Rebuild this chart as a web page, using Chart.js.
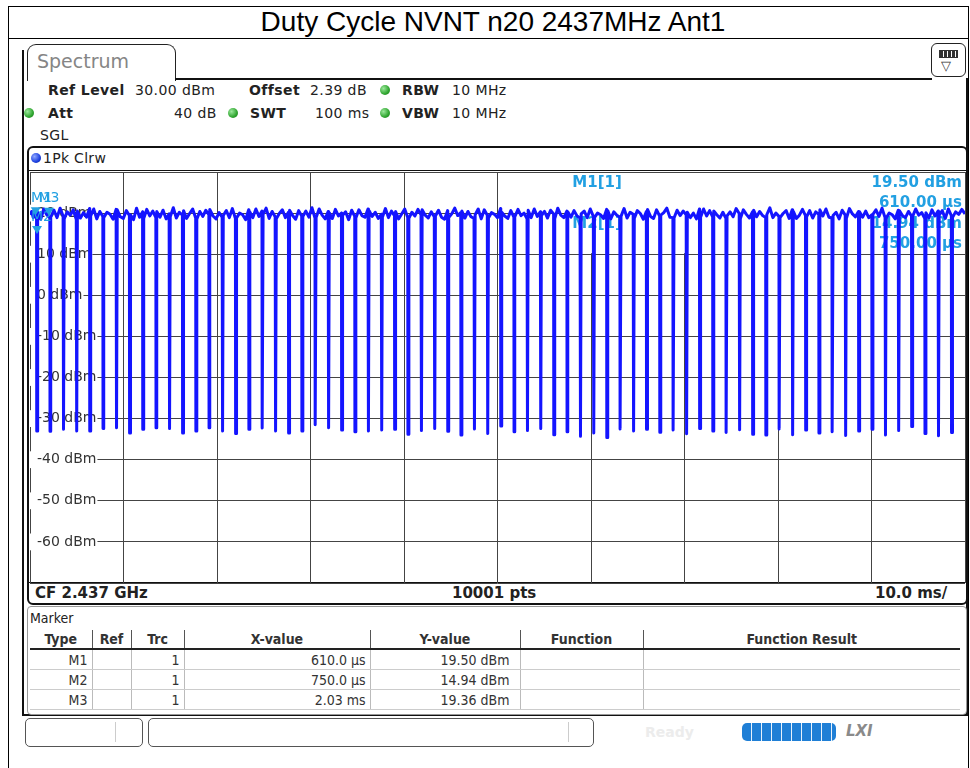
<!DOCTYPE html>
<html>
<head>
<meta charset="utf-8">
<title>Duty Cycle NVNT n20 2437MHz Ant1</title>
<script src="https://cdn.jsdelivr.net/npm/chart.js@4.4.0/dist/chart.umd.min.js"></script>
<style>
body { margin: 0; background: #fff; }
#page { position: relative; width: 970px; height: 768px; overflow: hidden; font-family: 'DejaVu Sans', sans-serif; color: #222; }
.a { position: absolute; white-space: nowrap; line-height: 1; }
.b { font-weight: bold; }
.s { font-size: 14px; letter-spacing: 0.4px; }
.dot { position: absolute; width: 10px; height: 10px; border-radius: 50%; background: radial-gradient(circle at 35% 35%, #9be89b, #2fa52f 60%, #1d7a1d); }
.ln { position: absolute; background: #111; }
#mk { position: absolute; left: 30px; top: 630px; width: 930px; border-collapse: collapse; font-family: 'DejaVu Sans Condensed', 'DejaVu Sans', sans-serif; font-size: 14px; color: #333; table-layout: fixed; }
#mk th { height: 18px; padding: 0; font-weight: bold; border-right: 1px solid #555; border-bottom: 2px solid #222; text-align: center; }
#mk td { height: 19px; padding: 0 4px 0 0; border-right: 1px solid #bbb; border-bottom: 1px solid #ccc; text-align: right; }
#mk td:nth-child(5) { padding-right: 10px; }
#mk th:last-child, #mk td:last-child { border-right: none; }
</style>
</head>
<body>
<div id="page">
  <!-- marco exterior y titulo -->
  <div class="a" style="left:8px;top:6px;width:959px;height:770px;border:1px solid #000;"></div>
  <div class="ln" style="left:8px;top:38px;width:961px;height:1px;background:#000;"></div>
  <div class="a" style="left:193px;top:8px;width:600px;text-align:center;font-family:'Liberation Sans',Arial,sans-serif;font-size:28px;color:#000;">Duty Cycle NVNT n20 2437MHz Ant1</div>

  <!-- ventana del analizador -->
  <div class="ln" style="left:22px;top:50px;width:2px;height:666px;"></div>
  <div class="ln" style="left:966px;top:78px;width:2px;height:638px;"></div>
  <div class="ln" style="left:22px;top:714px;width:946px;height:2px;"></div>
  <div class="a" style="left:27px;top:44px;width:147px;height:36px;border:1.5px solid #222;border-bottom:none;border-radius:9px 9px 0 0;background:#fff;"></div>
  <div class="a" style="left:37px;top:52px;font-size:19px;color:#858585;">Spectrum</div>
  <div class="ln" style="left:175px;top:78px;width:757px;height:1.5px;"></div>
  <div class="a" style="left:931px;top:43px;width:33px;height:32px;border:1.5px solid #222;border-radius:6px;background:#fff;"></div>
  <div class="a" style="left:939px;top:50px;width:17px;height:6px;background:repeating-linear-gradient(90deg,#333 0 3px,#fff 3px 4px);border:1px solid #333;"></div>
  <div class="a" style="left:941px;top:59px;font-size:13px;color:#333;">▽</div>

  <!-- parametros -->
  <div class="a s b" style="left:48px;top:83px;">Ref Level</div>
  <div class="a s" style="left:135px;top:83px;">30.00 dBm</div>
  <div class="a s b" style="left:249px;top:83px;">Offset</div>
  <div class="a s" style="left:310px;top:83px;">2.39 dB</div>
  <div class="dot" style="left:380px;top:85px;"></div>
  <div class="a s b" style="left:402px;top:83px;">RBW</div>
  <div class="a s" style="left:452px;top:83px;">10 MHz</div>
  <div class="dot" style="left:24px;top:108px;"></div>
  <div class="a s b" style="left:48px;top:106px;">Att</div>
  <div class="a s" style="left:174px;top:106px;">40 dB</div>
  <div class="dot" style="left:228px;top:108px;"></div>
  <div class="a s b" style="left:250px;top:106px;">SWT</div>
  <div class="a s" style="left:315px;top:106px;">100 ms</div>
  <div class="dot" style="left:380px;top:108px;"></div>
  <div class="a s b" style="left:402px;top:106px;">VBW</div>
  <div class="a s" style="left:452px;top:106px;">10 MHz</div>
  <div class="a s" style="left:40px;top:128px;">SGL</div>

  <!-- marco del diagrama -->
  <div class="a" style="left:27px;top:146px;width:937px;height:455px;border:2px solid #111;border-radius:6px;"></div>
  <div class="ln" style="left:29px;top:170px;width:937px;height:1px;"></div>
  <div class="a" style="left:31px;top:153px;width:10px;height:10px;border-radius:50%;background:radial-gradient(circle at 35% 35%,#8fa8ff,#1c3fe0 60%,#0b1f8c);"></div>
  <div class="a" style="left:43px;top:151px;font-size:14px;letter-spacing:0.3px;">1Pk Clrw</div>
  <div class="ln" style="left:29px;top:582px;width:937px;height:1px;"></div>
  <div class="a b" style="left:35px;top:586px;font-size:15px;">CF 2.437 GHz</div>
  <div class="a b" style="left:452px;top:586px;font-size:15px;">10001 pts</div>
  <div class="a b" style="left:875px;top:586px;font-size:15px;">10.0 ms/</div>

  <!-- tabla de marcadores -->
  <div class="a" style="left:27px;top:606px;width:938px;height:107px;border:1px solid #999;border-radius:4px;"></div>
  <div class="a" style="left:30px;top:611px;font-size:14px;font-family:'DejaVu Sans Condensed','DejaVu Sans';">Marker</div>
  <table id="mk">
    <colgroup><col style="width:62px"><col style="width:39px"><col style="width:53px"><col style="width:186px"><col style="width:150px"><col style="width:123px"><col></colgroup>
    <thead><tr><th>Type</th><th>Ref</th><th>Trc</th><th>X-value</th><th>Y-value</th><th>Function</th><th>Function Result</th></tr></thead>
    <tbody id="mk-body"></tbody>
  </table>

  <!-- barra de estado -->
  <div class="a" style="left:25px;top:718px;width:116px;height:27px;border:1px solid #555;border-radius:5px;"></div>
  <div class="ln" style="left:115px;top:722px;width:1px;height:20px;background:#ccc;"></div>
  <div class="a" style="left:148px;top:718px;width:444px;height:27px;border:1px solid #555;border-radius:5px;"></div>
  <div class="ln" style="left:568px;top:722px;width:1px;height:20px;background:#ccc;"></div>
  <div class="a b" style="left:645px;top:725px;font-size:14px;color:#ececec;">Ready</div>
  <div class="a" style="left:742px;top:723px;width:94px;height:18px;border-radius:5px;background:repeating-linear-gradient(90deg,#1f7fd6 0 9px,#e8f2fc 9px 10px);"></div>
  <div class="a b" style="left:846px;top:724px;font-size:15px;font-style:italic;color:#8a8a8a;">LXI</div>

  <canvas id="trace" width="970" height="768" style="position:absolute;left:0;top:0;"></canvas>
</div>

<script>
// Barrido de 100 ms, nivel de referencia 30 dBm, 10 dB/div
const sweepTimeMs = 100;
const yMax = 30;
const yMin = -70;

// Instantes (ms) de cada hueco de la ráfaga
const dipTimes = [
    0.72, 2.14, 3.56, 4.97, 6.39, 7.81, 9.23, 10.65, 12.06, 13.48,
    14.90, 16.32, 17.74, 19.15, 20.57, 21.99, 23.41, 24.83, 26.24, 27.66,
    29.08, 30.50, 31.91, 33.33, 34.75, 36.17, 37.59, 39.00, 40.42, 41.84,
    43.26, 44.68, 46.09, 47.51, 48.93, 50.35, 51.77, 53.18, 54.60, 56.02,
    57.44, 58.85, 60.27, 61.69, 63.11, 64.53, 65.94, 67.36, 68.78, 70.20,
    71.62, 73.03, 74.45, 75.87, 77.29, 78.70, 80.12, 81.54, 82.96, 84.38,
    85.79, 87.21, 88.63, 90.05, 91.47, 92.88, 94.30, 95.72, 97.14, 98.56
];

// Nivel mínimo (dBm) de cada hueco
const dipLevels = [
    -33.0, -33.1, -32.6, -33.0, -33.0, -32.4, -32.2, -33.5, -32.6, -32.2,
    -32.4, -33.5, -33.0, -32.2, -33.0, -33.6, -32.6, -32.3, -33.0, -33.5,
    -33.0, -31.5, -32.2, -32.8, -33.2, -33.0, -32.8, -32.6, -33.8, -32.9,
    -32.4, -33.1, -34.0, -32.5, -33.6, -31.8, -33.2, -32.9, -32.4, -33.9,
    -33.2, -34.3, -33.5, -34.6, -32.5, -33.0, -32.6, -33.3, -32.8, -33.7,
    -32.4, -33.0, -33.4, -32.7, -33.8, -34.0, -32.5, -33.9, -32.8, -33.5,
    -33.2, -34.1, -33.0, -32.6, -34.0, -32.9, -31.9, -33.6, -34.2, -33.4
];

// Lecturas del nivel de la señal (dBm) entre huecos, 5 por tramo
const topNoise = [
    [19.6, 20.4, 18.9, 19.5, 20.8], [20.2, 18.5, 21.0, 19.6, 18.8], [19.0, 20.7, 18.9, 21.2, 19.3],
    [18.6, 20.3, 19.5, 20.8, 18.4], [20.5, 18.8, 20.1, 19.0, 21.1], [19.3, 21.0, 18.6, 20.4, 19.2],
    [18.9, 20.2, 19.7, 18.5, 20.9], [20.8, 19.1, 18.7, 20.6, 19.4], [19.6, 18.4, 21.2, 19.0, 20.3],
    [18.7, 20.9, 19.3, 20.5, 18.9], [20.4, 19.0, 20.7, 18.6, 19.8], [19.1, 21.3, 18.8, 20.2, 19.5],
    [20.6, 18.7, 19.9, 21.0, 18.8], [18.5, 20.4, 19.2, 20.7, 19.6], [20.9, 19.3, 18.6, 20.1, 19.0],
    [19.4, 20.6, 18.9, 21.1, 18.7], [18.8, 20.0, 19.6, 18.4, 20.8], [20.3, 18.9, 21.0, 19.2, 20.5],
    [19.7, 21.2, 18.7, 20.4, 19.1], [18.6, 19.9, 20.8, 18.9, 20.2], [20.7, 19.4, 18.5, 20.6, 19.3],
    [19.2, 20.5, 19.0, 21.3, 18.8], [18.9, 21.0, 19.5, 18.6, 20.4], [20.1, 18.7, 20.9, 19.3, 20.0],
    [19.5, 20.3, 18.4, 20.7, 19.2], [18.8, 20.8, 19.4, 19.0, 21.0], [20.6, 19.2, 20.2, 18.7, 19.7],
    [19.0, 21.1, 18.9, 20.5, 19.4], [20.4, 18.6, 19.8, 21.0, 18.9], [18.7, 20.2, 19.3, 20.9, 19.6],
    [20.8, 19.5, 18.8, 20.3, 19.1], [19.3, 20.7, 19.0, 18.5, 20.6], [18.9, 19.8, 21.2, 19.4, 20.1],
    [20.5, 18.8, 20.4, 19.1, 18.7], [19.6, 21.0, 18.6, 20.8, 19.5], [18.8, 20.1, 19.7, 18.9, 21.1],
    [20.2, 19.3, 18.7, 20.6, 19.0], [19.1, 20.9, 19.4, 20.0, 18.6], [20.7, 18.9, 21.0, 19.2, 20.3],
    [19.4, 20.4, 18.8, 20.7, 19.8], [18.6, 21.2, 19.5, 18.9, 20.5], [20.3, 19.0, 20.6, 19.3, 18.8],
    [19.8, 20.5, 18.9, 21.0, 19.2], [18.9, 20.0, 19.6, 18.7, 20.9], [20.6, 18.6, 20.3, 19.5, 19.0],
    [19.2, 21.1, 18.8, 20.2, 19.7], [18.7, 20.6, 19.9, 18.5, 20.4], [20.9, 19.2, 18.7, 20.8, 19.3],
    [19.5, 20.1, 21.2, 19.0, 18.9], [18.8, 20.7, 19.4, 20.5, 19.6], [20.2, 18.9, 20.0, 18.6, 21.0],
    [19.0, 21.0, 19.3, 20.6, 19.1], [20.5, 19.6, 18.8, 20.2, 18.7], [19.3, 20.3, 19.1, 21.1, 19.9],
    [18.6, 20.8, 19.7, 18.8, 20.3], [20.7, 19.1, 20.4, 19.4, 18.9], [19.6, 21.3, 18.9, 20.0, 19.2],
    [18.9, 19.9, 20.6, 18.7, 20.8], [20.4, 18.7, 19.5, 20.9, 19.4], [19.1, 20.6, 18.8, 20.3, 19.7],
    [20.8, 19.3, 21.0, 19.0, 18.8], [19.4, 20.2, 18.6, 20.7, 19.5], [18.7, 21.1, 19.8, 19.1, 20.4],
    [20.3, 19.0, 20.5, 18.9, 19.6], [19.7, 20.8, 19.2, 21.2, 18.9], [18.8, 20.0, 19.6, 18.6, 20.7],
    [20.6, 19.4, 18.9, 20.4, 19.3], [19.2, 21.0, 19.5, 20.1, 18.7], [20.1, 18.8, 20.8, 19.3, 20.5],
    [19.5, 20.6, 18.7, 21.0, 19.4], [18.9, 20.3, 19.7, 20.9, 19.8]
];

// Marcadores
const markerNames = ['M1', 'M2', 'M3'];
const markerTimes = [0.61, 0.75, 2.03];   // ms
const markerLevels = [19.50, 14.94, 19.36]; // dBm

const traceColor = '#1414ff';
const markerColor = '#22a0e2';

// Construir la traza: tramos de señal y huecos
function buildTrace() {
    const points = [];
    let start = 0;
    for (let g = 0; g <= dipTimes.length; g++) {
        const end = g < dipTimes.length ? dipTimes[g] - 0.02 : sweepTimeMs;
        const row = topNoise[g];
        row.forEach((v, i) => {
            points.push({ x: start + (end - start) * i / (row.length - 1), y: v });
        });
        if (g < dipTimes.length) {
            points.push({ x: dipTimes[g], y: dipLevels[g] });
            points.push({ x: dipTimes[g] + 0.05, y: dipLevels[g] });
            start = dipTimes[g] + 0.1;
        }
    }
    return points;
}

function formatX(t, digits) {
    return t < 1 ? (t * 1000).toFixed(digits) + ' µs' : t.toFixed(2) + ' ms';
}

// Tabla de marcadores
const body = document.getElementById('mk-body');
markerNames.forEach((name, i) => {
    const row = document.createElement('tr');
    row.innerHTML = `<td>${name}</td><td></td><td>1</td><td>${formatX(markerTimes[i], 1)}</td>` +
        `<td>${markerLevels[i].toFixed(2)} dBm</td><td></td><td></td>`;
    body.appendChild(row);
});

// Recuadro de lectura de marcadores y símbolos
const markerPlugin = {
    id: 'markerPlugin',
    beforeDatasetsDraw(chart) {
        const { ctx, chartArea, scales } = chart;
        const x0 = scales.x.getPixelForValue(57.5);
        const yLine = scales.y.getPixelForValue(10);
        ctx.save();
        ctx.fillStyle = '#fff';
        ctx.fillRect(x0, chartArea.top + 1, chartArea.right - x0 - 1, yLine - chartArea.top - 2);

        ctx.fillStyle = markerColor;
        ctx.font = 'bold 15px "DejaVu Sans"';
        ctx.textBaseline = 'middle';
        const xl = scales.x.getPixelForValue(58);
        const xr = chartArea.right - 3;
        [0, 1].forEach(i => {
            const top = chartArea.top + 11 + i * 41;
            ctx.textAlign = 'left';
            ctx.fillText(markerNames[i] + '[1]', xl, top);
            ctx.textAlign = 'right';
            ctx.fillText(markerLevels[i].toFixed(2) + ' dBm', xr, top);
            ctx.fillText(formatX(markerTimes[i], 2), xr, top + 20);
        });
        ctx.restore();
    },
    afterDatasetsDraw(chart) {
        const { ctx, chartArea, scales } = chart;
        ctx.save();
        ctx.fillStyle = markerColor;
        ctx.font = '14px "DejaVu Sans"';
        ctx.textAlign = 'center';
        ctx.textBaseline = 'middle';
        markerNames.forEach((name, i) => {
            const px = scales.x.getPixelForValue(markerTimes[i]);
            const py = scales.y.getPixelForValue(markerLevels[i]);
            ctx.beginPath();
            ctx.moveTo(px - 5, py - 8);
            ctx.lineTo(px + 5, py - 8);
            ctx.lineTo(px, py);
            ctx.closePath();
            ctx.fill();
            const w = ctx.measureText(name).width;
            const lx = Math.max(px, chartArea.left + 1 + w / 2);
            ctx.fillText(name, lx, py - 17);
        });
        ctx.restore();
    }
};

const insideRange = c => c.tick && c.tick.value > yMin && c.tick.value < yMax;

const ctx = document.getElementById('trace').getContext('2d');
new Chart(ctx, {
    type: 'scatter',
    data: {
        datasets: [{
            data: buildTrace(),
            showLine: true,
            borderColor: traceColor,
            borderWidth: 3,
            borderJoinStyle: 'round',
            pointRadius: 0
        }]
    },
    options: {
        responsive: false,
        animation: false,
        devicePixelRatio: 1,
        layout: { padding: { left: 16, top: 172, right: 5, bottom: 185 } },
        plugins: { legend: { display: false }, tooltip: { enabled: false } },
        scales: {
            x: {
                type: 'linear',
                min: 0,
                max: sweepTimeMs,
                ticks: { display: false, stepSize: 10 },
                grid: { color: '#444', lineWidth: 1, drawTicks: false },
                border: { display: false }
            },
            y: {
                min: yMin,
                max: yMax,
                ticks: {
                    stepSize: 10,
                    mirror: true,
                    padding: 7,
                    color: '#333',
                    font: { family: 'DejaVu Sans', size: 14 },
                    showLabelBackdrop: insideRange,
                    backdropColor: '#fff',
                    backdropPadding: { left: 7, right: 1, top: 0, bottom: 0 },
                    callback: v => (v === yMax || v === yMin) ? '' : v + ' dBm'
                },
                grid: { color: '#444', lineWidth: 1, drawTicks: false },
                border: { display: false }
            }
        }
    },
    plugins: [markerPlugin]
});
</script>
</body>
</html>
